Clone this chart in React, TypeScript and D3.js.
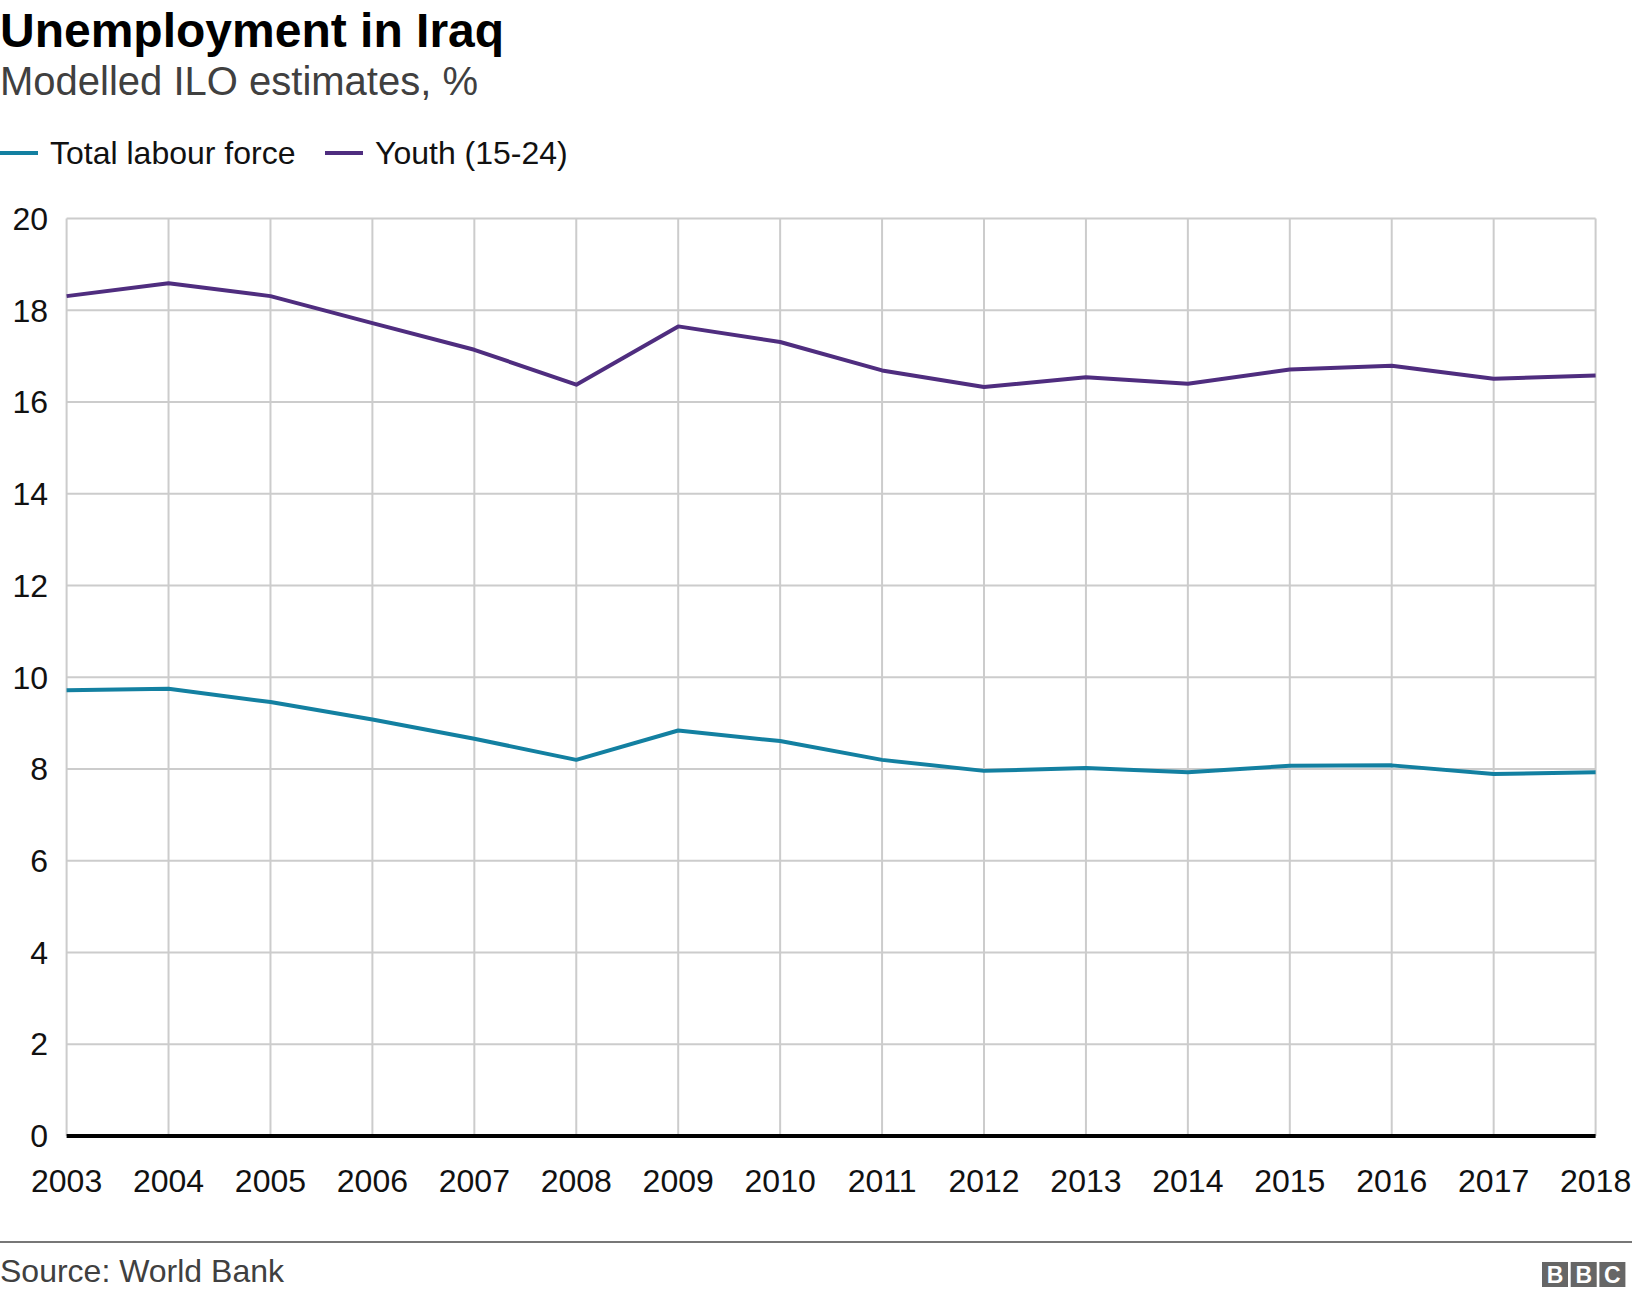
import React, { useEffect, useRef } from 'react'
import * as d3 from 'd3'

const years = [2003, 2004, 2005, 2006, 2007, 2008, 2009, 2010, 2011, 2012, 2013, 2014, 2015, 2016, 2017, 2018]
const totalLabour = [9.72, 9.75, 9.46, 9.08, 8.66, 8.2, 8.84, 8.61, 8.2, 7.96, 8.02, 7.93, 8.07, 8.08, 7.89, 7.93]
const youth = [18.31, 18.59, 18.31, 17.72, 17.14, 16.38, 17.65, 17.31, 16.69, 16.33, 16.54, 16.4, 16.71, 16.79, 16.51, 16.58]
const yTicks = [0, 2, 4, 6, 8, 10, 12, 14, 16, 18, 20]
const seriesNames = ['Total labour force', 'Youth (15-24)']
const seriesColors = ['#1380a1', '#4f2d7f']

const W = 1632
const H = 1298
const FONT = '"Liberation Sans", Arial, Helvetica, sans-serif'

const App = () => {
  const refSvg = useRef(null)

  const draw = () => {
    const svg = d3.select(refSvg.current)
    svg.selectAll('*').remove()
    svg.style('font-family', FONT)

    const left = 66.6
    const right = 1595.6
    const top = 218.6
    const bottom = 1136

    const x = d3.scaleLinear().domain([2003, 2018]).range([left, right])
    const y = d3.scaleLinear().domain([0, 20]).range([bottom, top])

    // title block
    svg.append('text').attr('x', 0).attr('y', 47).attr('font-size', 48).attr('font-weight', 'bold').attr('fill', '#000').text('Unemployment in Iraq')
    svg.append('text').attr('x', 0).attr('y', 95).attr('font-size', 40).attr('fill', '#404040').text('Modelled ILO estimates, %')

    // legend
    const legendX = [0, 325]
    seriesNames.forEach((name, i) => {
      svg.append('line').attr('x1', legendX[i]).attr('x2', legendX[i] + 38).attr('y1', 153).attr('y2', 153).attr('stroke', seriesColors[i]).attr('stroke-width', 4)
      svg.append('text').attr('x', legendX[i] + 50).attr('y', 164).attr('font-size', 32).attr('fill', '#111').text(name)
    })

    // grid
    const g = svg.append('g')
    g.selectAll('.hgrid')
      .data(yTicks.filter((t) => t !== 0))
      .enter()
      .append('line')
      .attr('x1', left)
      .attr('x2', right)
      .attr('y1', (d) => y(d))
      .attr('y2', (d) => y(d))
      .attr('stroke', '#cccccc')
      .attr('stroke-width', 2)
    g.selectAll('.vgrid')
      .data(years)
      .enter()
      .append('line')
      .attr('x1', (d) => x(d))
      .attr('x2', (d) => x(d))
      .attr('y1', top)
      .attr('y2', bottom)
      .attr('stroke', '#cccccc')
      .attr('stroke-width', 2)

    // y labels
    g.selectAll('.ylab')
      .data(yTicks)
      .enter()
      .append('text')
      .attr('x', 48)
      .attr('y', (d) => y(d))
      .attr('dy', '0.35em')
      .attr('text-anchor', 'end')
      .attr('font-size', 32)
      .attr('fill', '#111')
      .text((d) => d)

    // x labels
    g.selectAll('.xlab')
      .data(years)
      .enter()
      .append('text')
      .attr('x', (d) => x(d))
      .attr('y', 1192)
      .attr('text-anchor', 'middle')
      .attr('font-size', 32)
      .attr('fill', '#111')
      .text((d) => d)

    // baseline
    g.append('line').attr('x1', left).attr('x2', right).attr('y1', y(0)).attr('y2', y(0)).attr('stroke', '#000').attr('stroke-width', 4)

    // lines
    const line = d3
      .line<number>()
      .x((d, i) => x(years[i]))
      .y((d) => y(d))
    ;[totalLabour, youth].forEach((vals, i) => {
      g.append('path').datum(vals).attr('fill', 'none').attr('stroke', seriesColors[i]).attr('stroke-width', 4).attr('stroke-linejoin', 'round').attr('d', line)
    })

    // footer
    svg.append('line').attr('x1', 0).attr('x2', W).attr('y1', 1242).attr('y2', 1242).attr('stroke', '#777').attr('stroke-width', 2)
    svg.append('text').attr('x', 0).attr('y', 1282).attr('font-size', 32).attr('fill', '#404040').text('Source: World Bank')

    const logo = ['B', 'B', 'C']
    logo.forEach((ch, i) => {
      const bx = 1542 + i * 28.7
      svg.append('rect').attr('x', bx).attr('y', 1262).attr('width', 26).attr('height', 25).attr('fill', '#666')
      svg.append('text').attr('x', bx + 13).attr('y', 1283).attr('text-anchor', 'middle').attr('font-size', 23).attr('font-weight', 'bold').attr('fill', '#fff').text(ch)
    })
  }

  useEffect(() => {
    document.body.style.margin = '0'
    if (refSvg) {
      draw()
    }
  })

  return <svg ref={refSvg} width={W} height={H} style={{ display: 'block', background: '#fff' }} />
}

export default App
